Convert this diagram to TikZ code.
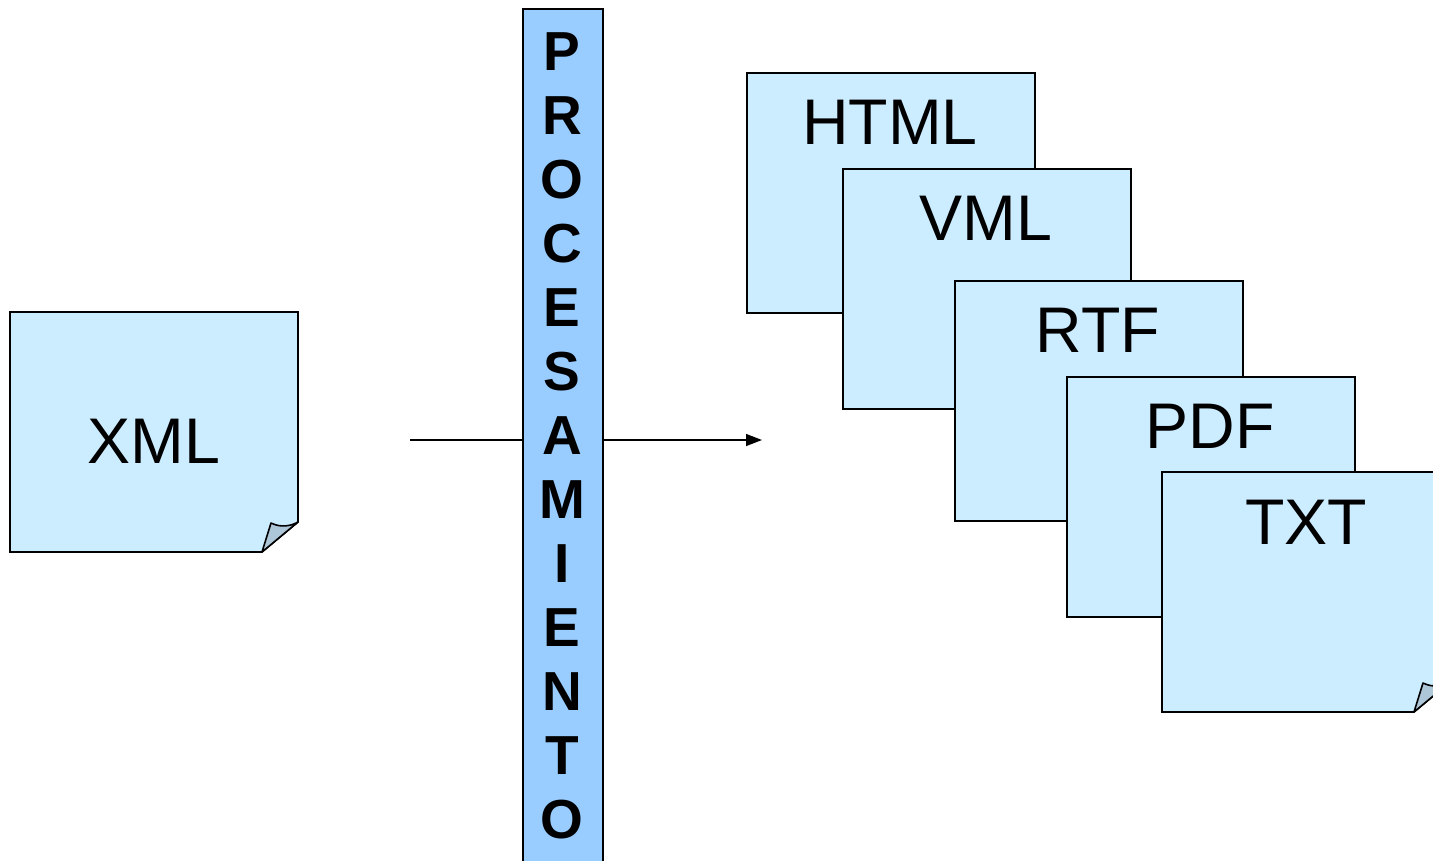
\documentclass[tikz,border=0pt]{standalone}
\usepackage{fontspec}
\setmainfont{Liberation Sans}
\usetikzlibrary{arrows.meta,calc}
\definecolor{boxfill}{HTML}{CCECFF}
\definecolor{barfill}{HTML}{99CCFF}
\definecolor{foldfill}{HTML}{ADC6D8}
\begin{document}
\begin{tikzpicture}[x=1pt,y=-1pt,
  doc/.style={draw=black,fill=boxfill,line width=1.6pt,rectangle,minimum width=288pt,minimum height=240pt,inner sep=0pt,anchor=north west},
  doctext/.style={font=\fontsize{64.5}{64.5}\selectfont,inner sep=0pt,anchor=center},
  barletter/.style={font=\fontsize{55}{55}\selectfont\bfseries,inner sep=0pt,anchor=center},
  fold/.style={draw=black,fill=foldfill,line width=1.6pt,line join=round}]
\clip (0,0) rectangle (1433,860);
% arrow (behind the bar)
\coordinate (arrstart) at (410,440);
\coordinate (arrend) at (762,440);
\draw[line width=1.4pt,-{Triangle[length=16pt,width=12pt]}] (arrstart) -- (arrend);
% XML document with folded corner
\draw[fill=boxfill,line width=1.6pt,line join=miter] (10,312) -- (298,312) -- (298,522) -- (262,552) -- (10,552) -- cycle;
\draw[fold] (262,552) -- (271,523) .. controls (281,528) and (291,526) .. (298,522) -- cycle;
\node[doctext] (xml) at (154,441) {XML};
% processing bar
\node[draw=black,fill=barfill,line width=1.6pt,rectangle,minimum width=80pt,minimum height=900pt,anchor=north west,inner sep=0pt] (bar) at (522,8) {};
\foreach \l [count=\i from 0] in {P,R,O,C,E,S,A,M,I,E,N,T,O}{
  \node[barletter] (bl\i) at (562,52+64*\i) {\l};
}
% output documents
\node[doc] (html) at (746,72) {};
\node[doctext] (htmlt) at (890,122) {HTML};
\node[doc] (vml) at (842,168) {};
\node[doctext] (vmlt) at (986,218) {VML};
\node[doc] (rtf) at (954,280) {};
\node[doctext] (rtft) at (1098,330) {RTF};
\node[doc] (pdf) at (1066,376) {};
\node[doctext] (pdft) at (1210,426) {PDF};
% TXT with folded corner
\draw[fill=boxfill,line width=1.6pt,line join=miter] (1162,472) -- (1450,472) -- (1450,682) -- (1414,712) -- (1162,712) -- cycle;
\draw[fold] (1414,712) -- (1423,683) .. controls (1433,688) and (1443,686) .. (1450,682) -- cycle;
\node[doctext] (txtt) at (1306,522) {TXT};
\end{tikzpicture}
\end{document}
